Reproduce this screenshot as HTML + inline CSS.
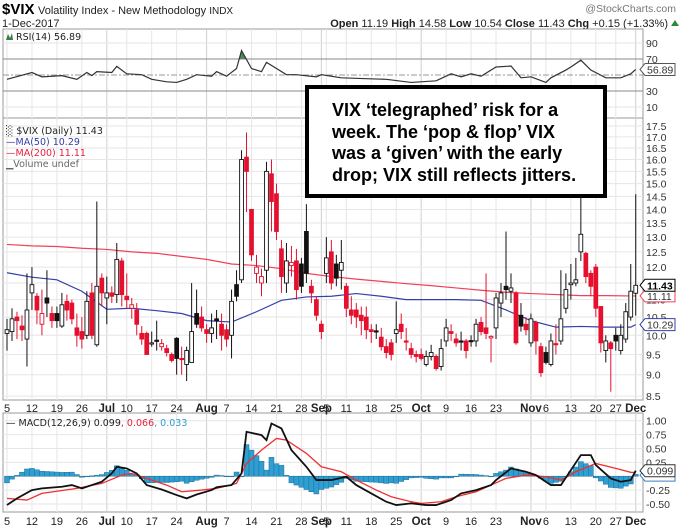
<!DOCTYPE html>
<html><head><meta charset="utf-8"><style>
html,body{margin:0;padding:0;background:#fff;width:681px;height:529px;overflow:hidden}
svg{display:block;font-family:"Liberation Sans",Arial,sans-serif}
</style></head><body>
<svg id="chart" width="681" height="529" viewBox="0 0 681 529" xmlns="http://www.w3.org/2000/svg">
<g>
<text x="2" y="14" font-size="15" font-weight="bold">$VIX</text>
<text x="38" y="14" font-size="11" fill="#222">Volatility Index - New Methodology <tspan font-size="10">INDX</tspan></text>
<text x="676" y="12" font-size="10.5" fill="#777" text-anchor="end">@StockCharts.com</text>
<text x="2" y="27" font-size="11" fill="#222">1-Dec-2017</text>
<text x="668" y="27" font-size="11" fill="#222" text-anchor="end"><tspan font-weight="bold">Open</tspan> 11.19 <tspan font-weight="bold">High</tspan> 14.58 <tspan font-weight="bold">Low</tspan> 10.54 <tspan font-weight="bold">Close</tspan> 11.43 <tspan font-weight="bold">Chg</tspan> +0.15 (+1.33%)</text>
<path d="M671 26 L675 20 L679 26 Z" fill="#2a8a3a"/>
</g>
<g id="grid"></g>
<g id="marks"></g>
<g>
<rect x="307" y="87" width="298" height="109" fill="#fff" stroke="#000" stroke-width="4"/>
<g font-size="18" font-weight="bold" fill="#000">
<text x="332" y="116">VIX ‘telegraphed’ risk for a</text>
<text x="332" y="138">week. The ‘pop &amp; flop’ VIX</text>
<text x="332" y="159">was a ‘given’ with the early</text>
<text x="332" y="181">drop; VIX still reflects jitters.</text>
</g>
</g>
</svg>
<script>
// ---- data ----
const opens=[10.05,10.1,10.5,10.25,9.9,11.2,11.1,10.3,11.05,10.6,10.6,10.25,10.95,10.9,10.2,10.1,10.0,11.2,9.75,11.65,11.05,11.2,11.15,12.2,11.1,10.75,10.7,10.05,10.05,9.78,9.87,9.7,9.65,9.5,9.92,9.4,9.25,9.3,10.6,10.5,10.15,10.05,10.45,10.3,10.15,10.0,11.45,11.6,16.1,14.0,11.8,11.5,11.9,15.4,14.6,12.6,11.5,12.05,12.2,12.1,13.2,11.4,11.0,10.3,11.8,12.5,12.1,11.9,11.4,10.7,10.7,10.55,10.5,10.15,10.12,9.95,9.7,9.8,10.05,10.3,9.85,9.65,9.5,9.5,9.25,9.45,9.45,9.2,9.85,10.1,9.9,9.85,9.85,9.86,9.85,10.35,10.2,9.93,10.2,10.9,11.4,11.25,11.2,10.55,10.3,9.8,10.35,9.7,9.55,9.25,9.78,9.85,10.75,11.45,11.5,12.5,12.45,11.8,12.0,10.8,9.6,9.8,10.0,9.6,9.9,10.5,11.19];
const highs=[10.45,10.75,10.65,10.55,11.8,12.0,11.2,11.3,11.9,10.8,10.8,11.2,11.15,11.0,10.6,10.5,11.25,11.5,14.3,11.8,11.7,11.4,12.8,12.3,11.8,11.05,10.9,10.25,10.1,10.1,10.4,9.9,9.75,9.55,9.95,9.7,9.7,11.5,11.3,10.8,10.3,10.6,10.7,10.6,10.3,11.3,11.9,16.4,17.2,14.0,12.4,11.95,15.9,16.0,15.0,12.9,12.8,12.7,12.6,12.3,14.2,11.6,11.1,10.4,13.0,12.9,12.4,12.9,11.5,11.1,10.9,10.8,10.8,10.3,10.3,10.2,9.9,9.9,10.95,10.6,10.2,9.8,9.6,9.65,9.6,9.75,9.5,9.9,10.45,10.3,10.05,10.1,9.9,10.0,10.45,10.5,11.8,10.0,11.2,11.5,13.2,11.8,11.25,10.9,10.5,10.6,10.4,9.8,9.7,10.05,10.3,11.9,11.8,12.1,12.3,15.3,12.5,11.9,12.1,10.8,10.0,9.85,10.2,10.3,10.9,12.1,14.58];
const lows=[9.6,9.85,9.9,9.85,9.2,10.7,10.3,10.0,10.5,10.2,10.2,10.2,10.4,10.3,9.7,9.65,9.9,9.9,9.7,10.8,10.3,10.9,10.9,10.8,10.75,10.45,10.0,9.75,9.5,9.7,9.6,9.6,9.45,9.3,9.0,9.0,8.85,9.3,10.2,10.1,9.8,9.8,9.9,9.6,9.7,9.4,10.95,11.5,13.9,12.2,11.5,11.1,11.5,13.2,12.9,11.2,11.2,11.7,11.0,11.2,11.5,10.9,10.4,9.9,11.5,11.3,11.4,11.3,10.5,10.3,10.2,10.0,9.9,9.8,9.9,9.6,9.4,9.35,9.8,9.9,9.6,9.4,9.3,9.35,9.2,9.35,9.1,9.1,9.7,9.85,9.7,9.6,9.4,9.7,9.7,10.0,9.9,9.3,9.9,10.5,11.0,10.9,9.75,10.1,10.0,9.7,9.5,8.95,9.25,9.2,9.5,9.75,10.6,11.0,11.4,12.2,11.5,11.1,10.5,9.55,9.3,8.6,9.6,9.5,9.8,10.4,10.54];
const closes=[10.15,10.45,10.4,10.15,10.7,11.45,10.7,10.6,10.9,10.4,10.4,10.85,10.7,10.45,10.0,9.9,10.95,10.0,11.4,11.2,11.2,11.1,12.25,11.15,11.0,10.85,10.3,9.9,9.5,9.8,9.85,9.78,9.55,9.35,9.4,9.38,9.6,10.1,10.3,10.2,10.05,10.2,10.4,10.0,9.9,10.95,11.1,16.0,15.5,12.4,12.0,11.7,15.5,14.3,13.2,11.7,12.2,12.15,11.3,11.4,11.8,11.2,10.55,10.1,12.3,11.5,11.65,12.15,10.75,10.55,10.5,10.4,10.15,10.1,10.1,9.7,9.55,9.5,10.15,10.1,9.82,9.5,9.45,9.4,9.45,9.55,9.15,9.65,10.2,10.05,9.8,9.83,9.6,9.85,10.3,10.1,10.05,9.97,11.05,11.2,11.3,11.35,9.8,10.25,10.15,10.45,9.85,9.05,9.3,9.85,9.77,10.45,11.3,11.5,11.6,13.1,11.7,11.4,10.75,9.8,9.85,9.65,9.85,10.0,10.65,11.25,11.43];
const maDays=[0,5,10,15,20,25,30,35,40,45,50,55,60,65,70,75,80,85,90,95,100,105,110,115,120,125,126];
const ma50=[11.82,11.68,11.6,11.25,10.72,10.75,10.68,10.6,10.4,10.36,10.65,10.98,11.08,11.1,11.18,11.1,11.0,11.0,11.0,10.98,10.7,10.4,10.22,10.24,10.22,10.22,10.29];
const ma200=[12.75,12.7,12.68,12.62,12.58,12.5,12.45,12.35,12.25,12.1,12.05,11.95,11.8,11.7,11.62,11.55,11.48,11.42,11.35,11.28,11.22,11.18,11.15,11.12,11.12,11.11,11.11];
const rsiDays=[0,5,7,11,14,16,17,18,21,22,24,27,29,32,34,36,38,41,42,44,46,47,49,51,52,56,58,62,63,67,72,76,81,86,89,91,93,95,98,101,103,105,108,109,112,113,115,117,120,123,125,126];
const rsiVals=[44.6,53.1,47.7,49.2,44.6,53.1,49.2,54.2,53.1,60.8,51.5,50.4,44.6,41.5,40.7,44.6,50.4,48.5,54.2,48.5,58.1,80.5,58.1,54.2,65.8,50.4,50.4,47.7,50.4,46.5,45.4,44.6,40.7,42.7,51.5,47.7,51.5,48.5,60,61.2,46.5,47.7,40.7,46.5,56.2,60,68.5,56.2,46.5,46.5,51.5,56.89];
const macdDays=[0,2,5,7,11,13,15,17,19,21,22,24,26,28,31,34,36,38,41,42,45,47,48,51,52,53,55,57,60,62,65,68,70,73,76,78,81,84,86,89,91,94,97,98,101,104,106,109,111,113,115,117,118,121,123,125,126];
const macdVals=[-0.52,-0.40,-0.25,-0.22,-0.19,-0.16,-0.22,-0.16,-0.10,0.05,0.17,0.14,0.05,-0.16,-0.24,-0.34,-0.40,-0.33,-0.25,-0.20,-0.16,0.05,0.80,0.74,0.65,0.95,0.86,0.47,0.17,-0.07,-0.07,-0.01,-0.16,-0.31,-0.46,-0.52,-0.49,-0.52,-0.52,-0.43,-0.31,-0.25,-0.16,-0.07,0.14,0.08,0.02,-0.16,-0.16,0.11,0.38,0.38,0.20,-0.04,-0.10,-0.07,0.099];
const sigDays=[0,4,7,14,19,23,25,28,32,35,39,42,46,48,51,54,56,60,63,67,70,74,77,81,83,87,90,94,97,100,104,108,111,114,118,122,125,126];
const sigVals=[-0.40,-0.43,-0.31,-0.22,-0.13,0.02,0.05,-0.04,-0.16,-0.28,-0.25,-0.22,-0.13,0.23,0.47,0.68,0.65,0.41,0.17,0.08,-0.07,-0.25,-0.37,-0.46,-0.49,-0.46,-0.37,-0.28,-0.16,-0.04,0.02,-0.01,-0.07,0.08,0.23,0.14,0.07,0.066];
const priceTicks=[17.5,17.0,16.5,16.0,15.5,15.0,14.5,14.0,13.5,13.0,12.5,12.0,11.5,11.0,10.5,10.0,9.5,9.0,8.5];
const rsiTicks=[90,70,50,30,10];
const macdTicks=[1.00,0.75,0.50,0.25,-0.25,-0.50];
const holidays=['2017-07-04','2017-09-04','2017-11-23'];
const monthNames=['Jan','Feb','Mar','Apr','May','Jun','Jul','Aug','Sep','Oct','Nov','Dec'];

// ---- geometry ----
const NS='http://www.w3.org/2000/svg';
const xL=3,xR=643;
const X=i=>7+i*4.99;
const Y=v=>126+(Math.log(17.5)-Math.log(v))*374;
const YR=v=>75-(v-50)*0.8;
const YM=v=>476.2-v*55.5;
const grid=document.getElementById('grid'),marks=document.getElementById('marks');
function mk(tag,attrs,parent){const e=document.createElementNS(NS,tag);for(const k in attrs)e.setAttribute(k,attrs[k]);(parent||marks).appendChild(e);return e;}
function txt(x,y,s,attrs,parent){const e=mk('text',Object.assign({x:x,y:y,'font-size':11,fill:'#333'},attrs||{}),parent);e.textContent=s;return e;}

// trading days
const days=[];let d=new Date(Date.UTC(2017,5,5));
while(days.length<closes.length){const wd=d.getUTCDay();const iso=d.toISOString().slice(0,10);if(wd>0&&wd<6&&holidays.indexOf(iso)<0)days.push(new Date(d));d=new Date(d.getTime()+86400000);}
const tickIdx=[],tickLab=[],tickBold=[];
for(let i=0;i<days.length;i++){const dd=days[i];const monthStart=i>0&&dd.getUTCMonth()!==days[i-1].getUTCMonth();
 if(monthStart){tickIdx.push(i);tickLab.push(monthNames[dd.getUTCMonth()]);tickBold.push(true);continue;}
 const isWeekStart=i===0||dd.getUTCDay()<days[i-1].getUTCDay()||(dd-days[i-1])>3*86400000;
 if(isWeekStart){let hide=false;for(let k=1;k<=3&&i+k<days.length;k++){if(days[i+k].getUTCMonth()!==dd.getUTCMonth())hide=true;}
  if(!hide){tickIdx.push(i);tickLab.push(String(dd.getUTCDate()));tickBold.push(false);}}}

// panels
const panels=[[29,118,'rsi-panel'],[118,400,'price-panel'],[413,512,'macd-panel']];
panels.forEach(p=>{const r=mk('rect',{x:xL,y:p[0],width:xR-xL,height:p[1]-p[0],fill:'none',stroke:'#999','stroke-width':1},grid);
 
 });
// vertical grid
tickIdx.forEach((ti,k)=>{panels.forEach(p=>{const l=mk('line',{x1:X(ti),x2:X(ti),y1:p[0],y2:p[1],stroke:tickBold[k]?'#cfcfcf':'#e6e6e6','stroke-width':1},grid);
 
 });});
// price grid + labels
priceTicks.forEach(v=>{const l=mk('line',{x1:xL,x2:xR,y1:Y(v),y2:Y(v),stroke:'#e6e6e6'},grid);
 
 
 const t=txt(646,Y(v)+4,v.toFixed(1),{'font-size':10.5},grid);
 
 });
// rsi grid
rsiTicks.forEach(v=>{const strong=(v===70||v===30);const l=mk('line',{x1:xL,x2:xR,y1:YR(v),y2:YR(v),stroke:strong?'#8a8a8a':(v===50?'#999':'#e6e6e6'),'stroke-dasharray':v===50?'6,2,2,2':'none'},grid);
 
 
 if(v!==50){const t=txt(646,YR(v)+4,String(v),{'font-size':10.5},grid);
 
 }});
// macd grid
macdTicks.concat([0]).forEach(v=>{const l=mk('line',{x1:xL,x2:xR,y1:YM(v),y2:YM(v),stroke:'#e6e6e6'},grid);
 
 });
macdTicks.forEach(v=>{const t=txt(646,YM(v)+4,v.toFixed(2),{'font-size':10.5},grid);
 
 });
// x tick labels
[408,521].forEach(yy=>{tickIdx.forEach((ti,k)=>{const t=txt(X(ti),yy+4,tickLab[k],{'font-size':tickBold[k]?11.5:11,'font-weight':tickBold[k]?'bold':'normal','text-anchor':'middle',fill:'#222'},grid);
 
 });});

// ---- RSI ----
const rsiPts=rsiDays.map((di,k)=>X(di)+','+YR(rsiVals[k])).join(' ');
const cp=mk('clipPath',{id:'ob'});mk('rect',{x:xL,y:0,width:xR-xL,height:YR(70)},cp);
const rf=mk('polygon',{points:X(rsiDays[0])+','+YR(70)+' '+rsiPts+' '+X(rsiDays[rsiDays.length-1])+','+YR(70),fill:'#4d8a57','clip-path':'url(#ob)'});


const rl=mk('polyline',{points:rsiPts,fill:'none',stroke:'#333','stroke-width':1.2});



// ---- MA lines ----
const m2=mk('polyline',{points:maDays.map((di,k)=>X(di)+','+Y(ma200[k])).join(' '),fill:'none',stroke:'#f0405a','stroke-width':1.2});


const m5=mk('polyline',{points:maDays.map((di,k)=>X(di)+','+Y(ma50[k])).join(' '),fill:'none',stroke:'#3340a8','stroke-width':1.2});



// ---- candles ----
for(let i=0;i<closes.length;i++){const o=opens[i],c=closes[i],h=highs[i],l=lows[i];
 const red=i>0&&c<closes[i-1];const col=red?'#e4102e':'#111';const filled=c<o;
 const g=mk('g',{});
 
 
 mk('line',{x1:X(i),x2:X(i),y1:Y(h),y2:Y(l),stroke:col,'stroke-width':1},g);
 const top=Math.min(Y(o),Y(c)),ht=Math.max(1.2,Math.abs(Y(o)-Y(c)));
 mk('rect',{x:X(i)-1.9,y:top,width:3.8,height:ht,fill:filled?col:'#fff',stroke:col,'stroke-width':0.9},g);}

// ---- MACD ----
function interp(dArr,vArr,i){for(let k=0;k<dArr.length-1;k++){if(i>=dArr[k]&&i<=dArr[k+1]){const t=(i-dArr[k])/(dArr[k+1]-dArr[k]);return vArr[k]+t*(vArr[k+1]-vArr[k]);}}return vArr[vArr.length-1];}
for(let i=0;i<closes.length;i++){const hv=interp(macdDays,macdVals,i)-interp(sigDays,sigVals,i);
 const b=mk('rect',{x:X(i)-2.5,y:Math.min(YM(hv),YM(0)),width:5,height:Math.max(0.6,Math.abs(YM(hv)-YM(0))),fill:'#2f9fd2',stroke:'#1f6f98','stroke-width':0.5});
 
 }
const sl=mk('polyline',{points:sigDays.map((di,k)=>X(di)+','+YM(sigVals[k])).join(' '),fill:'none',stroke:'#f03030','stroke-width':1.3});


const ml=mk('polyline',{points:macdDays.map((di,k)=>X(di)+','+YM(macdVals[k])).join(' '),fill:'none',stroke:'#111','stroke-width':1.8});



// ---- value tags ----
function tag(y,s,stroke,bold,name){const g=mk('g',{});
 
 
 mk('path',{d:`M640 ${y} L645 ${y-6} L675 ${y-6} L675 ${y+6} L645 ${y+6} Z`,fill:'#fff',stroke:stroke,'stroke-width':1},g);
 txt(647,y+4,s,{'font-size':10.5,'font-weight':bold?'bold':'normal',fill:bold?'#000':'#333'},g);}
tag(Y(10.29),'10.29','#3340a8',false,'ma50-value-tag');
tag(Y(11.11),'11.11','#f0405a',false,'ma200-value-tag');
tag(Y(11.43),'11.43','#000',true,'close-value-tag');
tag(YR(56.89),'56.89','#555',false,'rsi-value-tag');
tag(YM(0.02),'','#3a7fc0',false,'macd-hist-tag');
tag(YM(0.099),'0.099','#333',false,'macd-value-tag');

// ---- legends ----
const lf={'font-family':'"DejaVu Sans",sans-serif','font-size':9.5,fill:'#222'};
let t;
mk('path',{d:'M6 40 L8 34 L10 38 L12 33 L13 40 Z',fill:'#3a7d44'});
t=txt(16,40,'RSI(14) 56.89',lf);


t=txt(6,134,'\u2591 $VIX (Daily) 11.43',lf);


t=txt(6,145,'\u2014MA(50) 10.29',Object.assign({},lf,{fill:'#3340a8'}));


t=txt(6,156,'\u2014MA(200) 11.11',Object.assign({},lf,{fill:'#e8203e'}));


t=txt(6,167,'\u2581Volume undef',Object.assign({},lf,{fill:'#666'}));


t=mk('text',{x:6,y:426,'font-family':'"DejaVu Sans",sans-serif','font-size':9.5,fill:'#222'});


t.innerHTML='\u2014 MACD(12,26,9) 0.099<tspan fill="#e8203e">, 0.066</tspan><tspan fill="#2f9fd2">, 0.033</tspan>';
</script>
</body></html>
